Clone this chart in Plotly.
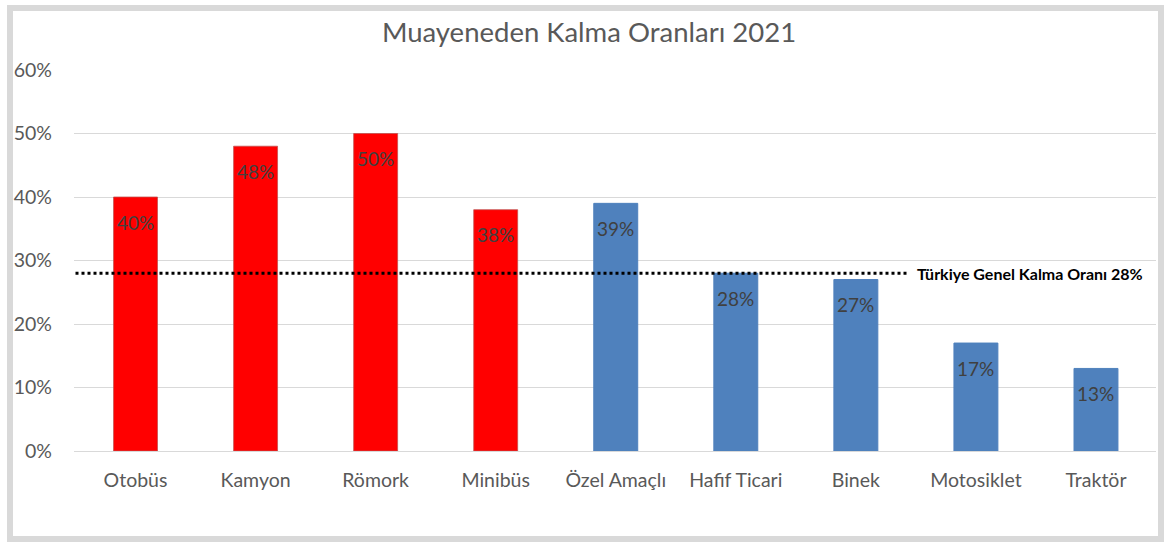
import plotly.graph_objects as go

# data
categories = ["Otobüs", "Kamyon", "Römork", "Minibüs", "Özel Amaçlı",
              "Hafif Ticari", "Binek", "Motosiklet", "Traktör"]
values = [40, 48, 50, 38, 39, 28, 27, 17, 13]
bar_colors = ["#FF0000"] * 4 + ["#4F81BD"] * 5
line_colors = ["rgba(192,80,77,0.75)"] * 4 + ["#4F81BD"] * 5
general_rate = 28
general_label = "Türkiye Genel Kalma Oranı 28%"
y_ticks = [0, 10, 20, 30, 40, 50, 60]

font_family = "Lato"

fig = go.Figure()

fig.add_trace(go.Bar(
    x=categories,
    y=values,
    marker=dict(color=bar_colors, line=dict(color=line_colors, width=1)),
    showlegend=False,
    hoverinfo="skip",
))

# data labels near the top inside each bar
for cat, val in zip(categories, values):
    fig.add_annotation(
        x=cat, y=val, text=f"{val}%",
        showarrow=False, yanchor="middle", yshift=-25,
        font=dict(family=font_family, size=19, color="#404040"),
    )

# general rate dotted line
fig.add_shape(
    type="line", xref="x", yref="y",
    x0=-0.5, x1=6.43, y0=general_rate, y1=general_rate,
    line=dict(color="black", width=3, dash="dot"),
)
fig.add_annotation(
    x=6.49, y=general_rate, xref="x", yref="y",
    text="<b>" + general_label + "</b>",
    showarrow=False, xanchor="left", yanchor="middle",
    font=dict(family=font_family, size=16, color="black"),
)

# chart border
plot_l, plot_r, plot_t, plot_b = 74, 1156, 70, 451
W, H = 1165, 542
def px_x(p):
    return (p - plot_l) / (plot_r - plot_l)
def px_y(p):
    return (plot_b - p) / (plot_b - plot_t)
fig.add_shape(
    type="rect", xref="paper", yref="paper",
    x0=px_x(10), x1=px_x(1161), y0=px_y(539), y1=px_y(8),
    line=dict(color="#D9D9D9", width=6), fillcolor="rgba(0,0,0,0)",
    layer="below",
)

fig.update_layout(
    width=W, height=H,
    margin=dict(l=plot_l, r=W - plot_r, t=plot_t, b=H - plot_b),
    paper_bgcolor="white",
    plot_bgcolor="white",
    bargap=0.634,
    title=dict(
        text="Muayeneden Kalma Oranları 2021",
        x=589 / W, xanchor="center",
        y=1 - 32 / H, yanchor="middle",
        font=dict(family=font_family, size=27.5, color="#595959"),
    ),
    xaxis=dict(
        showgrid=False, showline=False, zeroline=False,
        tickfont=dict(family=font_family, size=19.5, color="#595959"),
        ticklabelstandoff=15,
    ),
    yaxis=dict(
        range=[0, 60],
        tickvals=y_ticks,
        ticktext=[f"{t}%" for t in y_ticks],
        showgrid=True, gridcolor="#D9D9D9", gridwidth=1,
        zeroline=True, zerolinecolor="#D9D9D9", zerolinewidth=1,
        showline=False,
        tickfont=dict(family=font_family, size=19.5, color="#595959"),
        ticklabelstandoff=21,
    ),
)

fig.write_html("out.html", config={"displayModeBar": False},
               post_script="document.body.style.margin='0';")
